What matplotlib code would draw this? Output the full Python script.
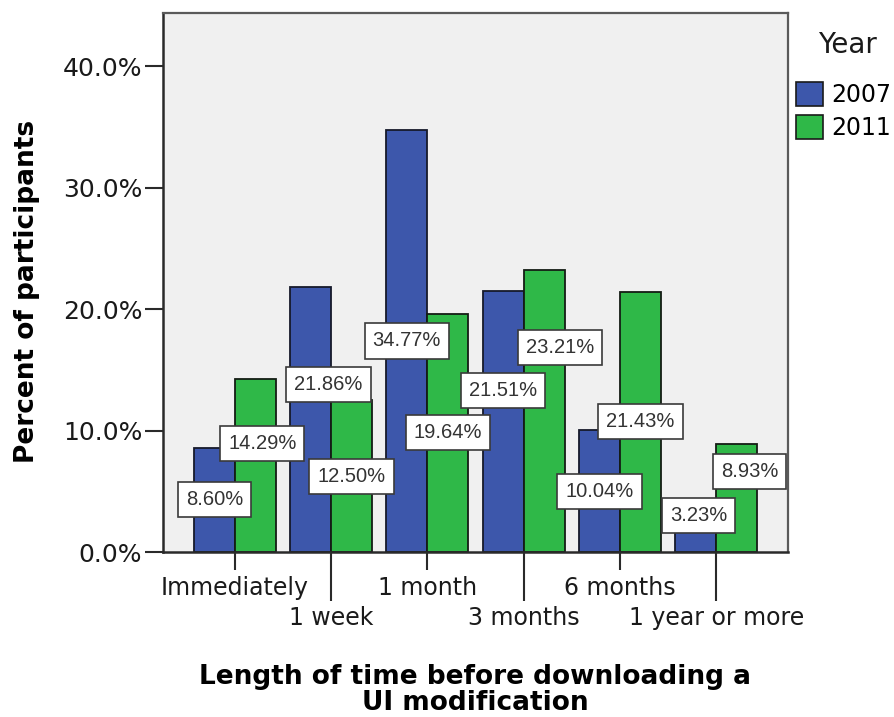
import matplotlib
matplotlib.use("Agg")
import matplotlib.pyplot as plt
from matplotlib.patches import Patch
from matplotlib.ticker import FuncFormatter
import numpy as np

# Data
categories = ["Immediately", "1 week", "1 month", "3 months", "6 months", "1 year or more"]
years = ["2007", "2011"]
pct_2007 = [8.60, 21.86, 34.77, 21.51, 10.04, 3.23]
pct_2011 = [14.29, 12.50, 19.64, 23.21, 21.43, 8.93]
y_ticks = [0, 10, 20, 30, 40]

# Per-label nudges (pixels) so the value boxes do not collide
nudge_2007 = [(0, 0), (18, 35), (0, 0), (0, 31), (0, 0), (3, 17)]
nudge_2011 = [(7, 22), (0, 0), (0, 0), (16, 64), (0, 0), (13, 26)]

colors = {"2007": "#3d57ab", "2011": "#2fb848"}

plt.rcParams["font.family"] = ["DejaVu Sans"]

fig = plt.figure(figsize=(8.95, 7.17), dpi=100)
ax = fig.add_axes([163 / 895, 165 / 717, 625 / 895, 539 / 717])
ax.set_facecolor("#f0f0f0")

x = np.arange(len(categories))
w = 0.425
bars07 = ax.bar(x - w / 2, pct_2007, w, color=colors["2007"],
                edgecolor="#161a2a", linewidth=1.3, zorder=2)
bars11 = ax.bar(x + w / 2, pct_2011, w, color=colors["2011"],
                edgecolor="#141c14", linewidth=1.3, zorder=2)

for bars, vals, nudges in ((bars07, pct_2007, nudge_2007),
                           (bars11, pct_2011, nudge_2011)):
    for b, v, (dx, dy) in zip(bars, vals, nudges):
        ax.annotate(f"{v:.2f}%", xy=(b.get_x() + b.get_width() / 2, v / 2),
                    xytext=(dx, dy), textcoords="offset pixels",
                    ha="center", va="center", fontsize=14.5,
                    family="Liberation Sans", color="#333333", zorder=4,
                    bbox=dict(boxstyle="square,pad=0.4", fc="white",
                              ec="#3a3a3a", lw=1.2))

ax.set_xlim(-0.745, 5.745)
ax.set_ylim(0, 44.4)
ax.set_yticks(y_ticks)
ax.yaxis.set_major_formatter(FuncFormatter(lambda v, _: f"{v:.1f}%"))

# staggered category labels: long ticks for the lower row
ax.set_xticks(x[::2], [categories[i] for i in x[::2]])
ax.set_xticks(x[1::2], [categories[i] for i in x[1::2]], minor=True)
ax.tick_params(axis="x", which="major", length=13, width=1.5,
               color="#2a2a2a", labelsize=17, pad=4, labelcolor="#1a1a1a")
ax.tick_params(axis="x", which="minor", length=35, width=1.5,
               color="#2a2a2a", labelsize=17, pad=4, labelcolor="#1a1a1a")
ax.tick_params(axis="y", length=13, width=1.5, color="#2a2a2a",
               labelsize=18, pad=2, labelcolor="#1a1a1a")

for side in ("top", "right"):
    ax.spines[side].set_color("#5a5a5a")
    ax.spines[side].set_linewidth(1.6)
for side in ("left", "bottom"):
    ax.spines[side].set_color("#2a2a2a")
    ax.spines[side].set_linewidth(1.8)

fig.text(27 / 895, 1 - 291 / 717, "Percent of participants", rotation=90,
         ha="center", va="center", fontsize=19, fontweight="bold")
fig.text(475 / 895, 1 - 677 / 717, "Length of time before downloading a",
         ha="center", va="center", fontsize=19, fontweight="bold")
fig.text(475 / 895, 1 - 703 / 717, "UI modification",
         ha="center", va="center", fontsize=19, fontweight="bold")

# legend: title set a little apart from the entries
fig.text(847 / 895, 1 - 45 / 717, "Year", ha="center", va="center",
         fontsize=20, color="#1a1a1a")
handles = [Patch(facecolor=colors[y], edgecolor="#1a1a1a", linewidth=1.2, label=y)
           for y in years]
fig.legend(handles=handles, loc="upper left",
           bbox_to_anchor=(796 / 895, 1 - 82 / 717), frameon=False,
           fontsize=17, handlelength=1.15, handleheight=1.2,
           handletextpad=0.35, labelspacing=0.32, borderpad=0, borderaxespad=0)

fig.savefig("out.png", dpi=100, facecolor="white")
